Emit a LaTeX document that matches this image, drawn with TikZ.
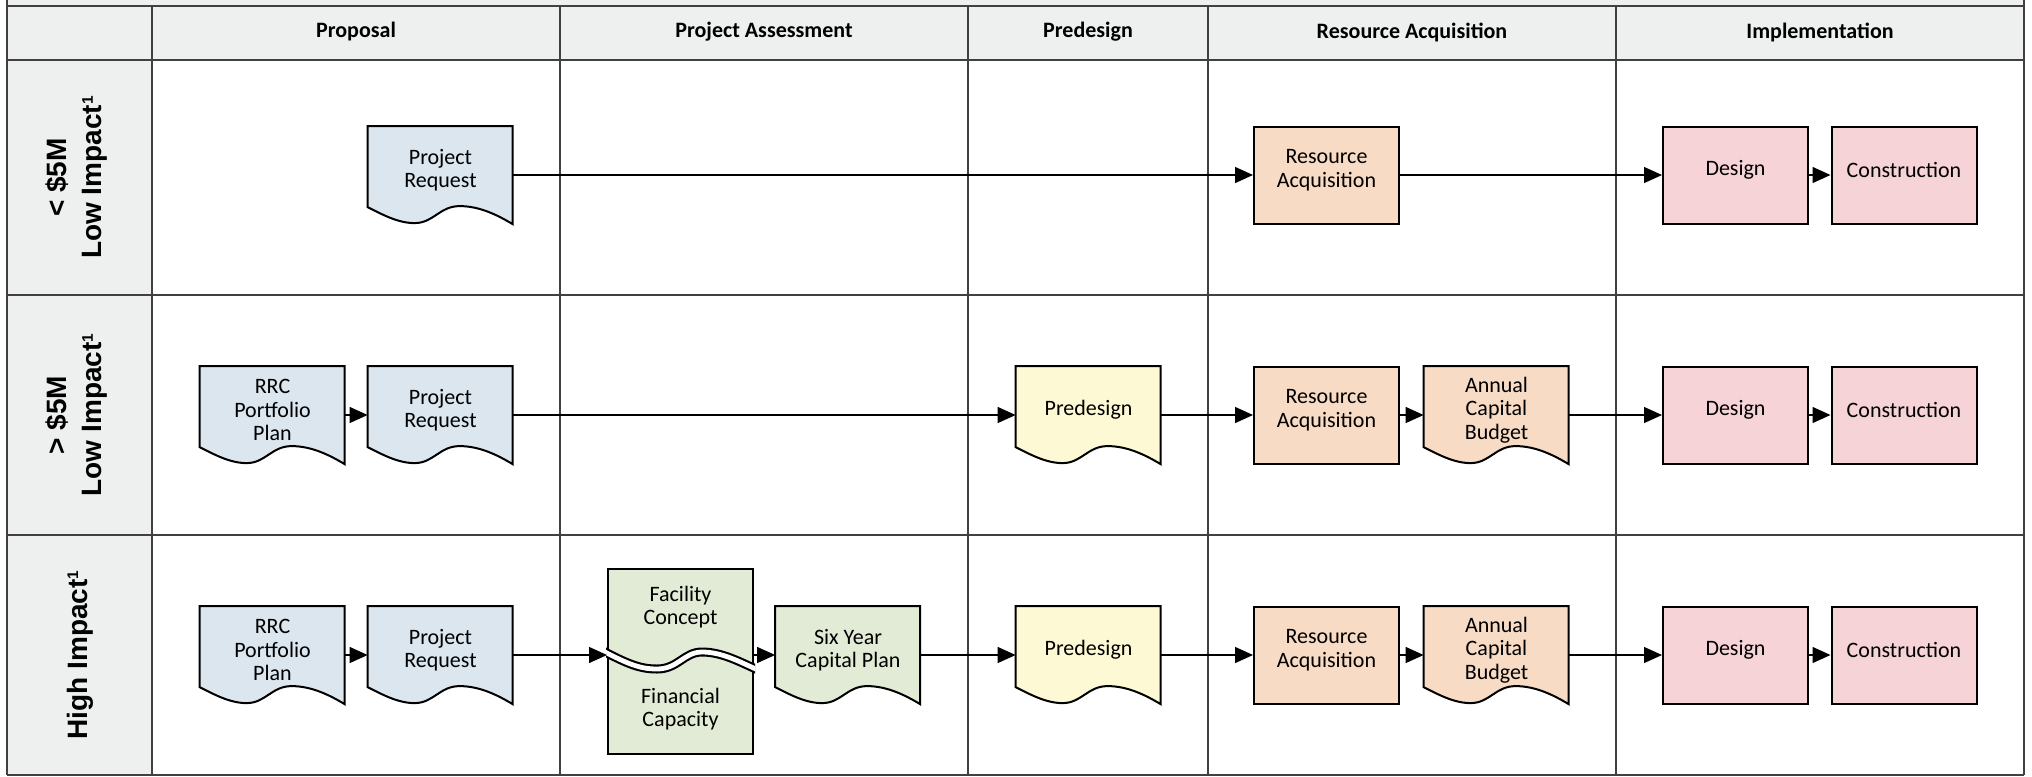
\documentclass[tikz,border=0pt]{standalone}
\usepackage{fontspec}
\setmainfont{Carlito}
\newfontfamily\lanefont{Liberation Sans}
\usetikzlibrary{arrows.meta}

\pgfdeclarelayer{grid}
\pgfdeclarelayer{shapes}
\pgfsetlayers{grid,shapes,main}

\definecolor{headgray}{HTML}{EEF0EF}
\definecolor{gridline}{HTML}{404040}
\definecolor{docblue}{HTML}{DBE6EF}
\definecolor{concgreen}{HTML}{E2EBD5}
\definecolor{preyellow}{HTML}{FDF9D4}
\definecolor{respeach}{HTML}{F7DBC5}
\definecolor{implpink}{HTML}{F5D3D6}

\tikzset{
  plaintext/.style={inner sep=0pt, align=center, font=\fontsize{11}{11.75}\selectfont},
  stepbox/.style={rectangle, minimum width=72.5pt, minimum height=48.5pt, inner sep=0pt},
  txt/.style={label={[plaintext, yshift=2.5pt]center:{#1}}},
  procbox/.style={stepbox, draw=black, line width=1pt, fill=#1},
  docbox/.style={stepbox},
  flow/.style={-{Triangle[length=9pt,width=8pt]}, line width=0.65pt},
  lanelabel/.style={rotate=90, align=center, inner sep=0pt,
    font=\lanefont\bfseries\fontsize{14}{17.5}\selectfont},
  colhead/.style={inner sep=0pt, font=\bfseries\fontsize{11}{13}\selectfont},
  gridrule/.style={draw=gridline, line width=1pt},
}

% small footnote mark raised to cap height
\newcommand{\fnmark}{\raisebox{4.5pt}{\fontsize{7.7}{8}\selectfont 1}}

% document symbol: rectangle with a wavy lower edge, drawn behind the node text
\newcommand{\docoutline}[2]{%
  \begin{pgfonlayer}{shapes}
    \filldraw[fill=#2, draw=black, line width=1pt, shift={(#1.north west)}]
      (0,0) -- (145,0) -- (145,98)
      .. controls (130,89) and (112,80) .. (92,80)
      .. controls (72,80) and (66,97) .. (47,97)
      .. controls (30,97) and (14,88) .. (0,81) -- cycle;
  \end{pgfonlayer}}

\begin{document}
\begin{tikzpicture}[x=0.5pt, y=-0.5pt]
\useasboundingbox (0,0) rectangle (2032,776);

% ---------- swimlane grid ----------
\begin{pgfonlayer}{grid}
  \fill[headgray] (7,0) rectangle (2024,60);
  \fill[headgray] (7,60) rectangle (152,775);
  \foreach \yy in {6,60,295,535,775}
    \draw[gridrule] (7,\yy) -- (2024,\yy);
  \draw[gridrule] (7,0) -- (7,775);
  \draw[gridrule] (2024,0) -- (2024,775);
  \foreach \xx in {152,560,968,1208,1616}
    \draw[gridrule] (\xx,6) -- (\xx,775);
\end{pgfonlayer}

% ---------- column headers ----------
\node[colhead] (hProp) at (356,32) {Proposal};
\node[colhead] (hAss)  at (764,32) {Project Assessment};
\node[colhead] (hPre)  at (1088,32) {Predesign};
\node[colhead] (hRes)  at (1412,32) {Resource Acquisition};
\node[colhead] (hImp)  at (1820,32) {Implementation};

% ---------- lane labels ----------
\node[lanelabel] (lane1) at (77,177.5) {< \$5M\\Low Impact\fnmark};
\node[lanelabel] (lane2) at (77,415) {> \$5M\\Low Impact\fnmark};
\node[lanelabel] (lane3) at (80,655) {High Impact\fnmark};

% ---------- lane 1: under $5M, low impact ----------
\node[docbox, txt={Project\\Request}] (pr1) at (440.5,175) {};
\docoutline{pr1}{docblue}
\node[procbox=respeach, txt={Resource\\Acquisition}] (ra1) at (1326.5,175) {};
\node[procbox=implpink, txt={Design}] (des1) at (1735.5,175) {};
\node[procbox=implpink, txt={Construction}] (con1) at (1904,175) {};

\draw[flow] (pr1.east) -- (ra1.west);
\draw[flow] (ra1.east) -- (des1.west);
\draw[flow] (des1.east) -- (con1.west);

% ---------- lane 2: over $5M, low impact ----------
\node[docbox, txt={RRC\\Portfolio\\Plan}] (rrc2) at (272.5,415) {};
\docoutline{rrc2}{docblue}
\node[docbox, txt={Project\\Request}] (pr2) at (440.5,415) {};
\docoutline{pr2}{docblue}
\node[docbox, txt={Predesign}] (pre2) at (1088.5,415) {};
\docoutline{pre2}{preyellow}
\node[procbox=respeach, txt={Resource\\Acquisition}] (ra2) at (1326.5,415) {};
\node[docbox, txt={Annual\\Capital\\Budget}] (acb2) at (1496.5,415) {};
\docoutline{acb2}{respeach}
\node[procbox=implpink, txt={Design}] (des2) at (1735.5,415) {};
\node[procbox=implpink, txt={Construction}] (con2) at (1904,415) {};

\draw[flow] (rrc2.east) -- (pr2.west);
\draw[flow] (pr2.east) -- (pre2.west);
\draw[flow] (pre2.east) -- (ra2.west);
\draw[flow] (ra2.east) -- (acb2.west);
\draw[flow] (acb2.east) -- (des2.west);
\draw[flow] (des2.east) -- (con2.west);

% ---------- lane 3: high impact ----------
\node[docbox, txt={RRC\\Portfolio\\Plan}] (rrc3) at (272.5,655) {};
\docoutline{rrc3}{docblue}
\node[docbox, txt={Project\\Request}] (pr3) at (440.5,655) {};
\docoutline{pr3}{docblue}

% split box: facility concept above the break, financial capacity below
\node[stepbox, draw=black, line width=1pt, fill=concgreen,
      minimum height=92.5pt] (fac) at (680.5,661.5) {};
\begin{scope}
  \clip ([shift={(-1,-1)}]fac.north west) rectangle ([shift={(1,1)}]fac.south east);
  \draw[line width=4.5pt, black]
    (603,651) .. controls (628,664) and (640,669) .. (657,669)
    .. controls (678,669) and (684,652) .. (702,652)
    .. controls (722,652) and (740,662) .. (758,670);
  \draw[line width=2.4pt, white]
    (603,651) .. controls (628,664) and (640,669) .. (657,669)
    .. controls (678,669) and (684,652) .. (702,652)
    .. controls (722,652) and (740,662) .. (758,670);
\end{scope}
\node[plaintext] (facTop) at (680.5,607) {Facility\\Concept};
\node[plaintext] (facBot) at (680.5,709) {Financial\\Capacity};

\node[docbox, txt={Six Year\\Capital Plan}] (six3) at (848,655) {};
\docoutline{six3}{concgreen}
\node[docbox, txt={Predesign}] (pre3) at (1088.5,655) {};
\docoutline{pre3}{preyellow}
\node[procbox=respeach, txt={Resource\\Acquisition}] (ra3) at (1326.5,655) {};
\node[docbox, txt={Annual\\Capital\\Budget}] (acb3) at (1496.5,655) {};
\docoutline{acb3}{respeach}
\node[procbox=implpink, txt={Design}] (des3) at (1735.5,655) {};
\node[procbox=implpink, txt={Construction}] (con3) at (1904,655) {};

\draw[flow] (rrc3.east) -- (pr3.west);
\draw[flow] (pr3.east) -- (pr3.east -| fac.west);
\draw[flow] (six3.west -| fac.east) -- (six3.west);
\draw[flow] (six3.east) -- (pre3.west);
\draw[flow] (pre3.east) -- (ra3.west);
\draw[flow] (ra3.east) -- (acb3.west);
\draw[flow] (acb3.east) -- (des3.west);
\draw[flow] (des3.east) -- (con3.west);
\end{tikzpicture}
\end{document}
